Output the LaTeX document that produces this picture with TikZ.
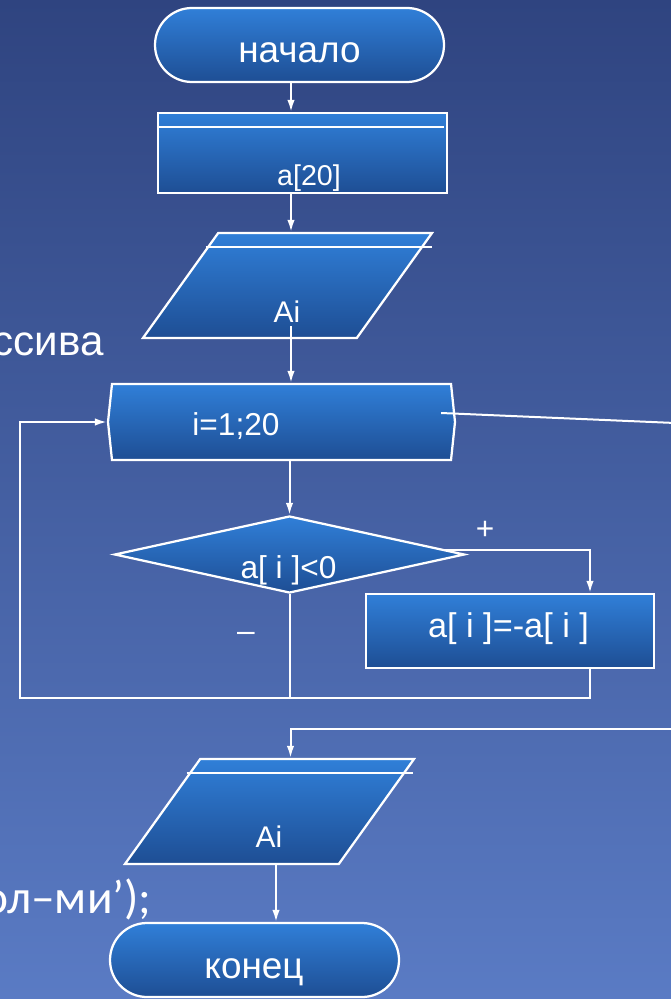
\documentclass[tikz,border=0pt]{standalone}
\usepackage{fontspec}
\setmainfont{Liberation Sans}
\newfontfamily\carl{Carlito}
\usetikzlibrary{calc}
\usetikzlibrary{shapes}
\usetikzlibrary{arrows.meta}
\definecolor{bgtop}{RGB}{47,68,128}
\definecolor{bgbot}{RGB}{90,123,196}
\definecolor{boxtop}{RGB}{48,127,216}
\definecolor{boxbot}{RGB}{30,78,148}
\newcommand\fsz[1]{\fontsize{#1pt}{#1pt}\selectfont}
\tikzset{
  blk/.style={draw=white, line width=0.45mm, top color=boxtop, bottom color=boxbot, inner sep=0pt},
  term/.style={blk, rounded rectangle, minimum width=57.8mm, minimum height=14.8mm},
  proc/.style={blk, rectangle},
  io/.style={blk, trapezium, inner sep=1pt, trapezium left angle=61.5, trapezium right angle=118.5,
    trapezium stretches=true, minimum width=57.8mm, minimum height=21mm},
  cyc/.style={blk, signal, signal to=west and east, signal pointer angle=168,
    minimum width=69.4mm, minimum height=15.2mm},
  dec/.style={blk, diamond, minimum width=70mm, minimum height=15.4mm},
  txt/.style={text=white, anchor=base, inner sep=0pt},
  wire/.style={white, line width=0.4mm},
}
\begin{document}
\begin{tikzpicture}[x=0.2mm,y=-0.2mm,>={Latex[length=2.4mm,width=1.5mm]}]
    \useasboundingbox (0,0) rectangle (671,999);
    \shade[top color=bgtop, bottom color=bgbot] (0,0) rectangle (671,999);
    \node[txt, anchor=base east, font=\fsz{24}] (tleft1) at (104,355) {ссива};
    \node[txt, anchor=base east, font=\carl\fsz{27}] (tleft2) at (152,913) {ол–ми’);};
    %
    \node[term] (start) at (299.5,45) {};
    \node[proc, minimum width=57.8mm, minimum height=16mm] (decl) at (302.5,153) {};
    \node[io] (in1) at (287.5,285.5) {};
    \node[cyc] (loop) at (281.5,422) {};
    \node[dec] (cond) at (289.5,554.5) {};
    \node[proc, minimum width=57.6mm, minimum height=14.8mm] (neg) at (510,631) {};
    \node[io] (out1) at (269.5,811.5) {};
    \node[term] (stop) at (254.5,960) {};
    %
    \draw[wire, line width=0.3mm] ($(decl.north west)+(0,15)$) -- ($(decl.north east)+(-4,15)$);
    \draw[wire, line width=0.3mm] ($(in1.top left corner)+(-12,15)$) -- ($(in1.top right corner)+(-2,15)$);
    \draw[wire, line width=0.3mm] ($(out1.top left corner)+(-13,15)$) -- ($(out1.top right corner)+(-3,15)$);
    %
    \node[txt, font=\fsz{21}] (tstart) at (299.5,63) {начало};
    \node[txt, font=\fsz{16.3}] (tdecl) at (309,186) {a[20]};
    \node[txt, font=\fsz{17}] (tin1) at (287,322) {Ai};
    \node[txt, font=\fsz{18}] (tloop) at (236,435) {i=1;20};
    \node[txt, font=\fsz{18}] (tcond) at (288.5,578) {a[ i ]<0};
    \node[txt, font=\fsz{19.5}] (tneg) at (508.5,637) {a[ i ]=-a[ i ]};
    \node[txt, font=\fsz{18}] (tplus) at (485,539) {+};
    \node[txt, font=\fsz{18}] (tminus) at (246,641) {–};
    \node[txt, font=\fsz{17}] (tout1) at (269,847) {Ai};
    \node[txt, font=\fsz{21}] (tstop) at (254,978) {конец};
    %
    \coordinate (ax) at (291,0);
    \coordinate (bl) at (20,698);
    \coordinate (ex1) at (675,423);
    \coordinate (ex2) at (675,729);
    \coordinate (ob) at ($(out1.south)+(6.5,0)$);
    \draw[wire,->] (start.south -| ax) -- (decl.north -| ax);
    \draw[wire,->] (decl.south -| ax) -- (in1.north -| ax);
    \draw[wire,->] ($(in1.south -| ax)+(0,-13)$) -- (loop.north -| ax);
    \draw[wire,->] (loop.south -| cond.north) -- (cond.north);
    \draw[wire,->] ($(cond.east)+(-22,-5)$) -| ($(neg.north)+(80,0)$);
    \draw[wire,->] ($(neg.south)+(80,0)$) |- (bl) |- (loop.west);
    \draw[wire] (cond.south) -- (cond.south |- bl);
    \draw[wire] ($(loop.east)+(-15,-9)$) -- (ex1);
    \draw[wire,->] (ex2) -| ($(out1.north)+(21,0)$);
    \draw[wire,->] (ob) -- (ob |- stop.north);
\end{tikzpicture}
\end{document}
